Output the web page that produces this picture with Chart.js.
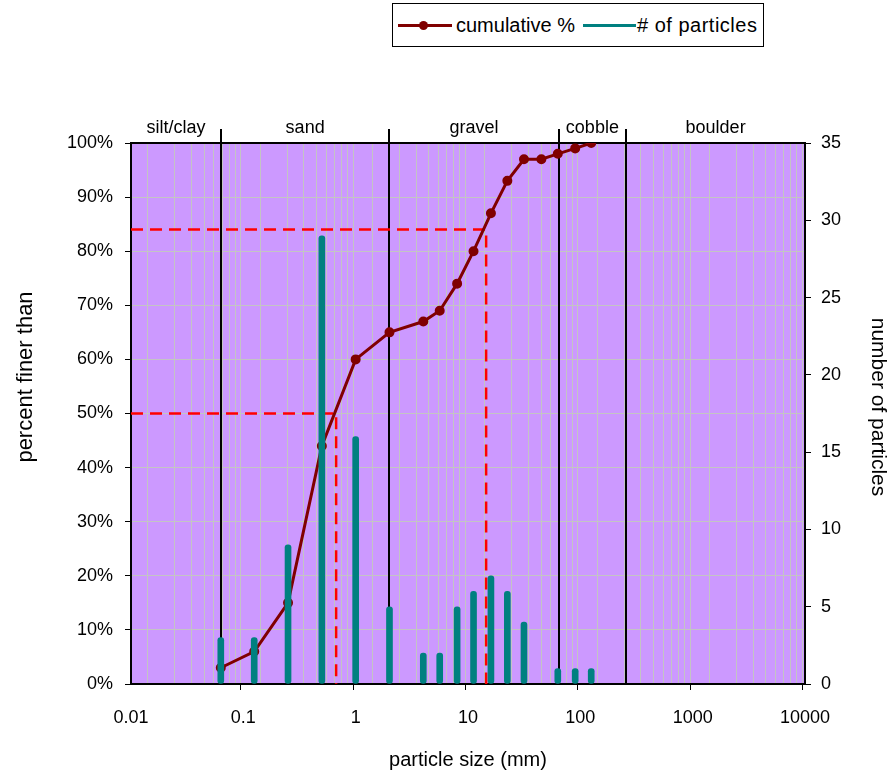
<!DOCTYPE html>
<html>
<head>
<meta charset="utf-8">
<title>Particle size distribution</title>
<script src="https://cdn.jsdelivr.net/npm/chart.js@4.4.1/dist/chart.umd.min.js"></script>
<style>
  html, body { margin: 0; padding: 0; background: #fff; }
  #wrap { position: relative; width: 894px; height: 772px; font-family: "Liberation Sans", Arial, sans-serif; color: #000; }
  #chart { position: absolute; left: 0; top: 0; }
  .legend { position: absolute; left: 392px; top: 3px; width: 372px; height: 44px; border: 1px solid #000; box-sizing: border-box; background: #fff; }
  .swatch { position: absolute; top: 20px; height: 3px; }
  .dot { position: absolute; top: 17px; width: 9px; height: 9px; border-radius: 50%; background: #800000; }
  .ltext { position: absolute; top: 0; line-height: 42px; font-size: 20px; white-space: nowrap; }
</style>
</head>
<body>
<div id="wrap">
  <canvas id="chart" width="894" height="772"></canvas>
  <div class="legend">
    <div class="swatch" style="left:5px;width:54px;background:#800000;"></div>
    <div class="dot" style="left:26px;"></div>
    <span class="ltext" style="left:63px;">cumulative %</span>
    <div class="swatch" style="left:190px;width:53px;background:#008080;"></div>
    <span class="ltext" style="left:244px;letter-spacing:0.5px;"># of particles</span>
  </div>
</div>
<script>
// Sieve sizes (mm) and cumulative percent passing
const sieveSizes = [0.063, 0.125, 0.25, 0.5, 1, 2, 4, 5.6, 8, 11.2, 16, 22.4, 31.5, 45, 63, 90, 125];
const cumulativePercent = [3, 6, 15, 44, 60, 65, 67, 69, 74, 80, 87, 93, 97, 97, 98, 99, 100];

// Particle counts retained per size class
const countSizes = [0.063, 0.125, 0.25, 0.5, 1, 2, 4, 5.6, 8, 11.2, 16, 22.4, 31.5, 63, 90, 125];
const particleCounts = [3, 3, 9, 29, 16, 5, 2, 2, 5, 6, 7, 6, 4, 1, 1, 1];

// Grain size classes and their boundaries (mm)
const sizeClassNames = ['silt/clay', 'sand', 'gravel', 'cobble', 'boulder'];
const sizeClassBounds = [0.01, 0.063, 2, 64, 256, 10000];

// Characteristic diameters D50 and D84 (mm)
const d50 = 0.67;
const d84 = 14.5;

// Axis ticks
const xTickValues = [0.01, 0.1, 1, 10, 100, 1000, 10000];
const xTickLabels = ['0.01', '0.1', '1', '10', '100', '1000', '10000'];
const percentMax = 100;
const percentStep = 10;
const countMax = 35;
const countStep = 5;

const FONT = '"Liberation Sans", Arial, sans-serif';
const GRID = '#c4c4c4';

function drawRotatedText(ctx, text, x, y, angle, size) {
  ctx.save();
  ctx.translate(x, y);
  ctx.rotate(angle);
  ctx.fillStyle = '#000';
  ctx.font = size + 'px ' + FONT;
  ctx.textAlign = 'center';
  ctx.textBaseline = 'middle';
  ctx.fillText(text, 0, 0);
  ctx.restore();
}

// Purple plot background, class boundaries, the plot frame and the vertical axis titles
const backdrop = {
  id: 'backdrop',
  beforeDraw(chart) {
    const { ctx, chartArea: a } = chart;
    ctx.save();
    ctx.fillStyle = '#cc99ff';
    ctx.fillRect(a.left, a.top, a.right - a.left, a.bottom - a.top);
    ctx.restore();
  },
  beforeDatasetsDraw(chart) {
    const { ctx, chartArea: a, scales } = chart;
    const x = scales.x;
    ctx.save();
    ctx.strokeStyle = '#000';
    ctx.lineWidth = 2;
    ctx.strokeRect(a.left, a.top, a.right - a.left, a.bottom - a.top);
    for (let i = 1; i < sizeClassBounds.length - 1; i++) {
      const px = Math.round(x.getPixelForValue(sizeClassBounds[i]));
      ctx.beginPath();
      ctx.moveTo(px, a.top - 14);
      ctx.lineTo(px, a.bottom);
      ctx.stroke();
    }
    ctx.fillStyle = '#000';
    ctx.font = '18px ' + FONT;
    ctx.textAlign = 'center';
    ctx.textBaseline = 'alphabetic';
    for (let i = 0; i < sizeClassNames.length; i++) {
      const l = x.getPixelForValue(sizeClassBounds[i]);
      const r = x.getPixelForValue(sizeClassBounds[i + 1]);
      ctx.fillText(sizeClassNames[i], (l + r) / 2, a.top - 10);
    }
    ctx.restore();
  },
  afterDraw(chart) {
    const { ctx } = chart;
    drawRotatedText(ctx, 'percent finer than', 26, 377, -Math.PI / 2, 22);
    drawRotatedText(ctx, 'number of particles', 878, 407, Math.PI / 2, 21);
  }
};

// Log grid lines at 1..9 of every decade
function logGridTicks(min, max) {
  const out = [];
  for (let d = min; d < max; d *= 10) {
    for (let m = 1; m <= 9; m++) out.push({ value: Number((m * d).toPrecision(6)) });
  }
  out.push({ value: max });
  return out;
}

const cumulativeData = sieveSizes.map((s, i) => ({ x: s, y: cumulativePercent[i] }));
const countData = countSizes.map((s, i) => ({ x: s, y: particleCounts[i] }));
const d50Line = [{ x: 0.01, y: 50 }, { x: d50, y: 50 }, { x: d50, y: 0 }];
const d84Line = [{ x: 0.01, y: 84 }, { x: d84, y: 84 }, { x: d84, y: 0 }];

new Chart(document.getElementById('chart'), {
  type: 'bar',
  data: {
    datasets: [
      {
        type: 'bar',
        label: '# of particles',
        data: countData,
        xAxisID: 'x',
        yAxisID: 'y2',
        backgroundColor: '#008080',
        barThickness: 6,
        borderRadius: 3,
        borderSkipped: false,
        order: 0
      },
      {
        type: 'line',
        label: 'cumulative %',
        data: cumulativeData,
        xAxisID: 'x',
        yAxisID: 'y',
        borderColor: '#800000',
        backgroundColor: '#800000',
        borderWidth: 3,
        pointRadius: 3.5,
        pointHoverRadius: 3.5,
        tension: 0,
        fill: false,
        order: 1
      },
      {
        type: 'line',
        label: 'D50',
        data: d50Line,
        xAxisID: 'x',
        yAxisID: 'y',
        borderColor: '#ff0000',
        borderWidth: 2.5,
        borderDash: [12, 7],
        pointRadius: 0,
        fill: false,
        order: 2
      },
      {
        type: 'line',
        label: 'D84',
        data: d84Line,
        xAxisID: 'x',
        yAxisID: 'y',
        borderColor: '#ff0000',
        borderWidth: 2.5,
        borderDash: [12, 7],
        pointRadius: 0,
        fill: false,
        order: 2
      }
    ]
  },
  options: {
    responsive: false,
    animation: false,
    devicePixelRatio: 1,
    layout: { padding: { top: 143, left: 0, right: 0, bottom: 0 } },
    plugins: { legend: { display: false }, tooltip: { enabled: false } },
    scales: {
      x: {
        type: 'logarithmic',
        position: 'bottom',
        min: 0.01,
        max: 10000,
        offset: false,
        afterBuildTicks(axis) { axis.ticks = logGridTicks(0.01, 10000); },
        afterFit(axis) { axis.height = 88; },
        ticks: {
          autoSkip: false,
          maxRotation: 0,
          padding: 17,
          color: '#000',
          font: { family: FONT, size: 18 },
          callback(value) {
            const k = xTickValues.indexOf(Number(value));
            return k >= 0 ? xTickLabels[k] : '';
          }
        },
        grid: {
          color: GRID,
          lineWidth: 1,
          tickLength: 6,
          tickColor(ctx) {
            return ctx.tick && xTickValues.indexOf(ctx.tick.value) >= 0 ? '#000' : 'rgba(0,0,0,0)';
          }
        },
        border: { display: true, color: '#000', width: 2 },
        title: {
          display: true,
          text: 'particle size (mm)',
          color: '#000',
          font: { family: FONT, size: 20 },
          padding: { top: 0, bottom: 0 }
        }
      },
      y: {
        position: 'left',
        min: 0,
        max: percentMax,
        afterFit(axis) { axis.width = 131; },
        ticks: {
          stepSize: percentStep,
          padding: 12,
          color: '#000',
          font: { family: FONT, size: 18 },
          callback: (v) => v + '%'
        },
        grid: { color: GRID, lineWidth: 1, tickLength: 6, tickColor: '#000' },
        border: { display: true, color: '#000', width: 2 }
      },
      y2: {
        position: 'right',
        min: 0,
        max: countMax,
        afterFit(axis) { axis.width = 89; },
        ticks: {
          stepSize: countStep,
          padding: 10,
          color: '#000',
          font: { family: FONT, size: 18 }
        },
        grid: { drawOnChartArea: false, tickLength: 6, tickColor: '#000' },
        border: { display: true, color: '#000', width: 2 }
      }
    }
  },
  plugins: [backdrop]
});
</script>
</body>
</html>
